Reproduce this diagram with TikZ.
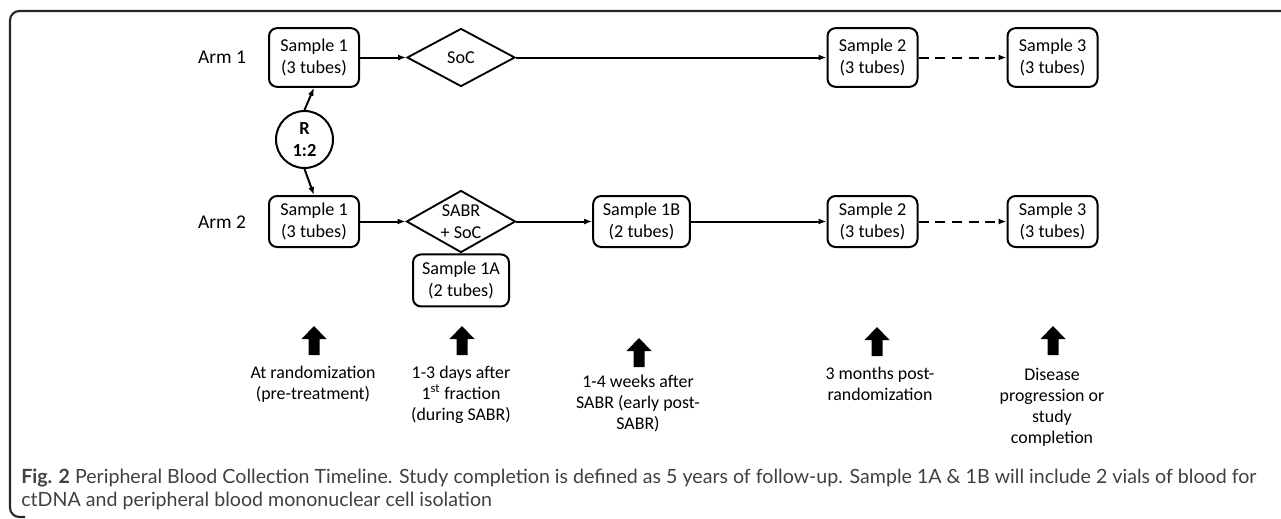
\documentclass[tikz,border=0pt]{standalone}
\usepackage{fontspec}
\setmainfont{Carlito}
\newfontfamily\capfont{Lato}
\usetikzlibrary{arrows.meta,shapes.geometric}

\begin{document}
\begin{tikzpicture}[x=0.75pt,y=-0.75pt,
    font=\fontsize{13.6}{16.2}\selectfont,
    box/.style={draw, line width=1.5pt, rounded corners=6pt, align=center,
        inner sep=0pt, minimum width=67.5pt},
    decision/.style={draw, diamond, line width=1.4pt, align=center,
        inner sep=0pt, aspect=1.8},
    conn/.style={line width=1.5pt, -{Latex[length=6pt,width=4.5pt]}},
    note/.style={align=center, inner sep=0pt, anchor=north,
        font=\fontsize{13.4}{15.8}\selectfont},
    blockarrow/.pic={\fill (-5.5,0) -- (-5.5,-16) -- (-12.5,-16) -- (0,-29)
        -- (12.5,-16) -- (5.5,-16) -- (5.5,0) -- cycle;}
]
    \useasboundingbox (0,0) rectangle (1281,518);
    \clip (0,0) rectangle (1281,518);

    % Frame
    \draw[line width=1.6pt, black!85, rounded corners=7pt] (1300,11) -- (10,11) -- (10,517) -- (25,517);

    % Arm 1
    \node[font=\fontsize{14.6}{17}\selectfont] (arm1) at (222,57) {Arm 1};
    \node[box, minimum height=44pt] (a1s1) at (314,57.5) {Sample 1\\(3 tubes)};
    \node[decision, minimum width=81pt, minimum height=43.5pt] (soc) at (461,57.5) {SoC};
    \node[box, minimum height=44pt] (a1s2) at (872.5,57.5) {Sample 2\\(3 tubes)};
    \node[box, minimum height=44pt] (a1s3) at (1052.5,57.5) {Sample 3\\(3 tubes)};

    % Arm 2
    \node[font=\fontsize{14.6}{17}\selectfont] (arm2) at (222,222) {Arm 2};
    \node[box, minimum height=38.25pt] (a2s1) at (314,221.5) {Sample 1\\(3 tubes)};
    \node[decision, minimum width=81.75pt, minimum height=46.5pt] (sabr) at (461,221.5) {SABR\\+ SoC};
    \node[box, minimum width=72pt, minimum height=39pt, anchor=north] (s1a) at (sabr.south) {Sample 1A\\(2 tubes)};
    \node[box, minimum width=72.5pt, minimum height=38.25pt] (s1b) at (641.5,221.5) {Sample 1B\\(2 tubes)};
    \node[box, minimum height=38.25pt] (a2s2) at (872.5,221.5) {Sample 2\\(3 tubes)};
    \node[box, minimum height=38.25pt] (a2s3) at (1052.5,221.5) {Sample 3\\(3 tubes)};

    % Randomisation
    \node[draw, circle, line width=1.5pt, minimum size=42.75pt, inner sep=0pt, align=center,
        font=\bfseries\fontsize{13.8}{16.5}\selectfont] (rand) at (304.5,139.5) {R\\1:2};
    \draw[conn] (rand.north) -- (a1s1.south);
    \draw[conn] (rand.south) -- (a2s1.north);

    % Connectors
    \draw[conn] (a1s1.east) -- (soc.west);
    \draw[conn] (soc.east) -- (a1s2.west);
    \draw[conn, dash pattern=on 7.5pt off 5pt] (a1s2.east) -- (a1s3.west);
    \draw[conn] (a2s1.east) -- (sabr.west);
    \draw[conn] (sabr.east) -- (s1b.west);
    \draw[conn] (s1b.east) -- (a2s2.west);
    \draw[conn, dash pattern=on 7.5pt off 5pt] (a2s2.east) -- (a2s3.west);

    % Time points
    \pic at (314,355) {blockarrow};
    \pic at (462,355) {blockarrow};
    \pic at (639,367) {blockarrow};
    \pic at (877,356) {blockarrow};
    \pic at (1053,355) {blockarrow};
    \node[note] (t1) at (313,366) {At randomization\\(pre-treatment)};
    \node[note] (t2) at (461,366) {1-3 days after\\1\textsuperscript{st} fraction\\(during SABR)};
    \node[note] (t3) at (638,375) {1-4 weeks after\\SABR (early post-\\SABR)};
    \node[note] (t4) at (880,367) {3 months post-\\randomization};
    \node[note] (t5) at (1052,368) {Disease\\progression or\\study\\completion};

    % Caption
    \node[anchor=base west, inner sep=0pt, text=black!75, font=\capfont\fontsize{14.7}{17}\selectfont] (cap1) at (21,483)
        {\textbf{Fig. 2} Peripheral Blood Collection Timeline. Study completion is defined as 5 years of follow-up. Sample 1A \& 1B will include 2 vials of blood for};
    \node[anchor=base west, inner sep=0pt, text=black!75, font=\capfont\fontsize{14.7}{17}\selectfont] (cap2) at (21,506)
        {ctDNA and peripheral blood mononuclear cell isolation};
\end{tikzpicture}
\end{document}
